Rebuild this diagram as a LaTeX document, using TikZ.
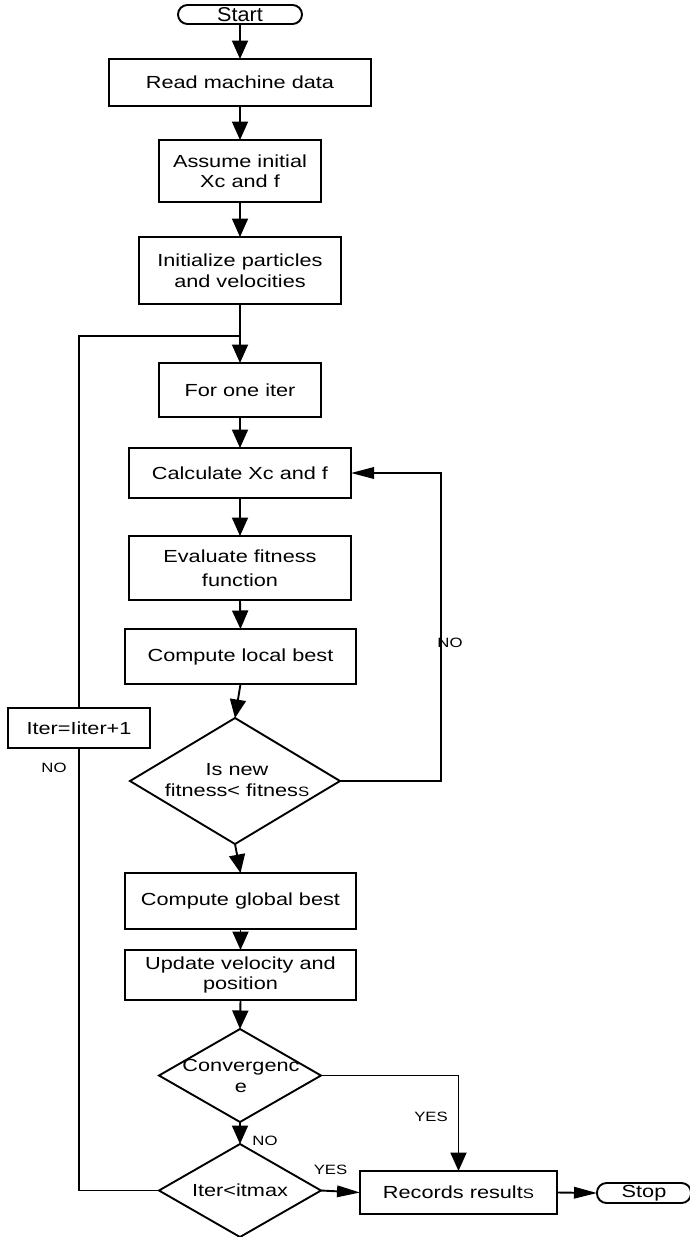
\documentclass[tikz,border=0pt]{standalone}
\usepackage{fontspec}
\setmainfont[FakeStretch=1.24]{Liberation Sans}
\newfontfamily\startfont[FakeStretch=1.08]{Liberation Sans}
\usetikzlibrary{shapes.geometric,arrows.meta}
\newcommand{\smallS}{{\fontsize{13.5}{16}\selectfont S}}
\begin{document}
\begin{tikzpicture}[x=1pt,y=-1pt,
  every node/.style={inner sep=0pt, outer sep=0pt},
  line/.style={line width=1.9pt, line join=miter},
  box/.style={draw, line width=1.9pt, rectangle, align=center, font=\fontsize{17.5}{20.5}\selectfont},
  term/.style={draw, line width=1.9pt, rectangle, rounded corners=9.5pt, align=center},
  dec/.style={draw, line width=1.9pt, diamond},
  dtext/.style={align=center, font=\fontsize{17.5}{21}\selectfont},
  lbl/.style={font=\fontsize{13.5}{16}\selectfont},
  varr/.style={line, -{Triangle[length=18.5pt,width=16pt]}},
  harr/.style={line, -{Triangle[length=23pt,width=11.5pt]}},
]
\useasboundingbox (0,0) rectangle (690,1237);

% nodes
\node[term, minimum width=124pt, minimum height=19pt, font=\startfont\fontsize{20}{22}\selectfont] (start) at (240,14.5) {Start};
\node[box, minimum width=262pt, minimum height=47pt] (read) at (240,82.5) {Read machine data};
\node[box, minimum width=162pt, minimum height=62pt] (assume) at (240,171) {Assume initial\\Xc and f};
\node[box, minimum width=202pt, minimum height=67pt] (init) at (240,270.5) {Initialize particles\\and velocities};
\node[box, minimum width=162pt, minimum height=54pt] (forone) at (240,390) {For one iter};
\node[box, minimum width=222pt, minimum height=50pt] (calc) at (240,473) {Calculate Xc and f};
\node[box, minimum width=222pt, minimum height=64pt, font=\fontsize{17.5}{24}\selectfont] (eval) at (240,568) {Evaluate fitness\\function};
\node[box, minimum width=231pt, minimum height=55pt] (local) at (240.5,656.5) {Compute local best};
\node[box, minimum width=142pt, minimum height=40pt] (inc) at (79,728) {Iter=Iiter+1};
\node[dec, minimum width=210pt, minimum height=126pt] (d1) at (235,781) {};
\node[dtext] (d1t) at (237,780) {Is new\\fitness< fitnes\smallS};
\node[box, minimum width=231pt, minimum height=56pt] (glob) at (240.5,901) {Compute global best};
\node[box, minimum width=231pt, minimum height=50pt] (upd) at (240.5,975) {Update velocity and\\position};
\node[dec, minimum width=162pt, minimum height=93pt] (d2) at (240,1075.5) {};
\node[dtext] (d2t) at (241,1076) {Convergenc\\e};
\node[dec, minimum width=162pt, minimum height=93pt] (d3) at (240,1190.5) {};
\node[dtext] (d3t) at (240,1190) {Iter<itmax};
\node[box, minimum width=197pt, minimum height=43pt] (recs) at (458.5,1192.5) {Records result\smallS};
\node[term, minimum width=94pt, minimum height=20pt, font=\fontsize{17.5}{20}\selectfont] (stop) at (644,1193) {Stop};

\coordinate (join) at (240,336);
\coordinate (r1) at (441,473);

% connectors
\draw[varr] (start.south) -- (read.north);
\draw[varr] (read.south) -- (assume.north);
\draw[varr] (assume.south) -- (init.north);
\draw[varr] (init.south) -- (forone.north);
\draw[varr] (forone.south) -- (calc.north);
\draw[varr] (calc.south) -- (eval.north);
\draw[varr] (eval.south) -- (local.north);
\draw[varr] (local.south) -- (d1.north);
\draw[harr] (d1.east) -| (r1) -- (calc.east);
\draw[varr] (d1.south) -- (glob.north);
\draw[varr] (glob.south) -- (upd.north);
\draw[varr] (upd.south) -- (d2.north);
\draw[varr] (d2.east) -| (recs.north);
\draw[varr] (d2.south) -- (d3.north);
\draw[harr] (d3.east) -- (recs.west);
\draw[harr] (recs.east) -- (stop.west);
\draw[line] (d3.west) -| (inc.south);
\draw[line] (inc.north) |- (join);

% labels
\node[lbl] (noA) at (450,643) {NO};
\node[lbl] (noB) at (54,768) {NO};
\node[lbl] (yesA) at (431,1117) {YES};
\node[lbl] (noC) at (265,1140.5) {NO};
\node[lbl] (yesB) at (330.5,1170) {YES};
\end{tikzpicture}
\end{document}
